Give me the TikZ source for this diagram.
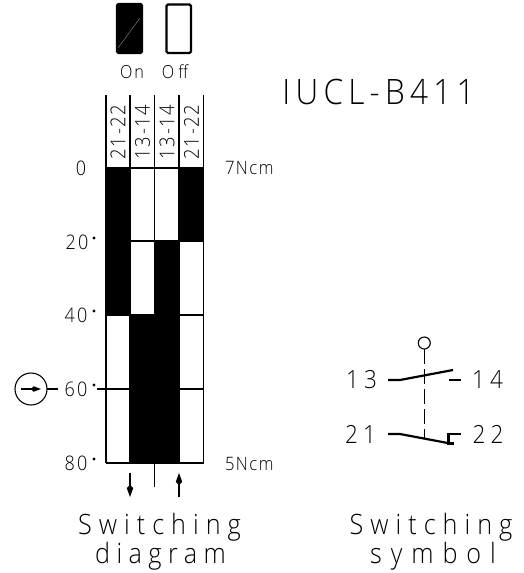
\documentclass[tikz,border=0pt]{standalone}
\usepackage{fontspec}
\newfontfamily\cadS[LetterSpace=10,FakeStretch=0.9]{Open Sans Light}
\newfontfamily\cadC[LetterSpace=8,FakeStretch=0.9]{Open Sans Light}
\newfontfamily\cadM[LetterSpace=20,FakeStretch=0.9]{Open Sans Light}
\newfontfamily\cadL[LetterSpace=25,FakeStretch=0.9]{Open Sans Light}
\newfontfamily\cadT[LetterSpace=15,FakeStretch=0.9]{Open Sans Light}
\usetikzlibrary{arrows.meta}
\tikzset{
  thinl/.style={line width=1.1pt,black},
  thick2/.style={line width=2.2pt,black},
  txt/.style={inner sep=0pt,outer sep=0pt,anchor=center,text=black},
  small/.style={txt,font=\cadS\fontsize{18}{18}\selectfont},
  scale lab/.style={txt,font=\cadS\fontsize{20}{20}\selectfont},
  torque lab/.style={txt,anchor=west,font=\cadC\fontsize{18.5}{18.5}\selectfont},
  col lab/.style={txt,rotate=90,font=\cadC\fontsize{20.5}{20.5}\selectfont},
  term/.style={txt,font=\cadM\fontsize{25}{25}\selectfont},
  caption lab/.style={txt,font=\cadL\fontsize{28}{28}\selectfont},
  title lab/.style={txt,font=\cadT\fontsize{35}{35}\selectfont},
  arrowed/.style={thinl,-{Kite[length=12pt,width=6.5pt,inset=3pt]}},
  deg/.style={fill=black,draw=none}
}
\begin{document}
\begin{tikzpicture}[x=1pt,y=-1pt]
\useasboundingbox (0,0) rectangle (523,573);
% legend
\draw[thick2,fill=black,rounded corners=1.5pt] (117,4) rectangle (142,53);
\draw[black!45,line width=0.4pt] (118,48) -- (140,18);
\draw[thick2,rounded corners=1.5pt] (166.5,4.5) rectangle (191,53);
\node[small] (on) at (132,72) {On};
\node[small] (off) at (175,72) {\addfontfeature{LetterSpace=24}Off};
\node[title lab] (title) at (378.5,92) {IUCL-B411};
% black bars
\fill (105.5,167.5) rectangle (130,315.5);
\fill (179,167.5) rectangle (204,241.5);
\fill (154.5,241) rectangle (180,463);
\fill (129.5,314.5) rectangle (155,463);
% grid
\foreach \x in {106,130,154.5,179,203.6} \draw[thinl] (\x,95) -- (\x,463);
\foreach \y in {168,241,315,463} \draw[thinl] (106,\y) -- (203.6,\y);
\draw[thinl] (97,389) -- (203.6,389);
\draw[thinl] (154.5,463) -- (154.5,487);
% column labels
\node[col lab] (c1) at (118,132) {21-22};
\node[col lab] (c2) at (142.5,132) {13-14};
\node[col lab] (c3) at (167,132) {13-14};
\node[col lab] (c4) at (191.5,132) {21-22};
% scale
\node[scale lab] (s0) at (81,168) {0};
\node[scale lab] (s20) at (77,242) {20};
\node[scale lab] (s40) at (76,315) {40};
\node[scale lab] (s60) at (76,389) {60};
\node[scale lab] (s80) at (76,463) {80};
\foreach \y in {238,311,385,459} \fill[deg] (94,\y) circle (1.6);
\node[torque lab] (t7) at (225,168) {7Ncm};
\node[torque lab] (t5) at (225,464) {5Ncm};
% pointer
\node[circle,draw,thinl,minimum size=32pt,inner sep=0pt] (dial) at (31,389) {};
\coordinate (dialend) at (58,389);
\draw[thinl] (dial) ++(16,0) -- (dialend);
\coordinate (pa) at (21,389); \coordinate (pb) at (41,389);
\draw[thinl,-{Kite[length=10pt,width=5.5pt,inset=2.5pt]}] (pa) -- (pb);
% direction arrows
\coordinate (da) at (130,473); \coordinate (db) at (130,497);
\coordinate (ua) at (179,497); \coordinate (ub) at (179,473);
\draw[arrowed] (da) -- (db);
\draw[arrowed] (ua) -- (ub);
\node[caption lab] (sw1) at (159.5,527) {Switching};
\node[caption lab] (dg) at (160.5,556) {\addfontfeature{LetterSpace=23}diagram};
\node[caption lab] (sw2) at (431,527) {Switching};
\node[caption lab] (sy) at (433,556) {\addfontfeature{LetterSpace=32}symbol};
% switching symbol
\node[circle,draw,thinl,minimum size=12pt,inner sep=0pt] (act) at (424.3,343) {};
\coordinate (actb) at (424.3,439);
\draw[thinl,dash pattern=on 15pt off 5pt] (act) ++(0,6) -- (actb);
\draw[thick2] (388,380) -- (400,380) -- (453,370);
\draw[thick2] (449,380) -- (461,380);
\draw[thick2] (388,434) -- (400,434) -- (453,444);
\draw[thick2] (461,434) -- (448.5,434) -- (448.5,445);
\draw[thick2] (447,443.5) -- (454,443.5);
\node[term] (n13) at (361.5,380) {13};
\node[term] (n14) at (487.5,380) {14};
\node[term] (n21) at (360.5,434) {21};
\node[term] (n22) at (488,434) {22};
\end{tikzpicture}
\end{document}
